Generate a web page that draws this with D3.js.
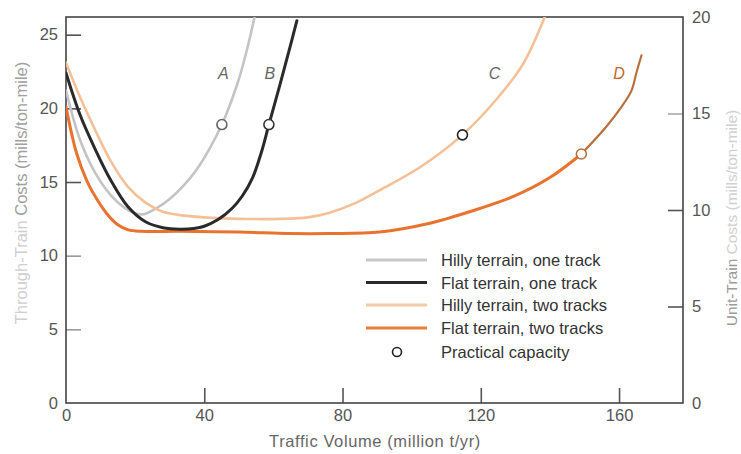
<!DOCTYPE html>
<html>
<head>
<meta charset="utf-8">
<script src="https://cdn.jsdelivr.net/npm/d3@7"></script>
<style>
  html, body { margin: 0; padding: 0; background: #fff; }
  svg { display: block; font-family: "Liberation Sans", Arial, sans-serif; }
</style>
</head>
<body>
<svg id="chart" width="741" height="454"></svg>
<script>
// Traffic volume (million t/yr) vs. cost (mills/ton-mile)
const hillyOneTrack = [[0,21.2],[4,17.9],[8.5,15.6],[13,14.1],[18,13.1],[22,12.8],[26,13.2],[30,13.85],[34,14.75],[37.8,15.85],[41.5,17.25],[45.1,18.9],[48,20.6],[50.3,22.2],[52.9,24.5],[55.2,26.9]];
const flatOneTrack = [[0,22.4],[4,19.6],[8.5,17.2],[13,15.1],[18,13.3],[23,12.3],[28,11.9],[33,11.8],[37,11.85],[40,12.0],[44,12.45],[48,13.2],[51,14.05],[54,15.3],[56.5,17.0],[58.7,18.9],[62,21.7],[65.3,24.6],[66.8,25.95]];
const hillyTwoTracks = [[0,23.1],[4,20.8],[8.5,18.5],[13,16.4],[18,14.65],[23,13.6],[27.8,13.0],[33,12.75],[40,12.6],[50,12.5],[62,12.5],[70,12.6],[76,12.9],[84,13.6],[90.8,14.45],[102.4,16.0],[114.7,18.2],[124.5,20.6],[132.2,23.0],[138.5,26.2]];
const flatTwoTracks = [[0,20.1],[3,17.0],[6,15.1],[8.5,14.0],[12,12.8],[15,12.1],[18,11.75],[22,11.65],[33,11.65],[50,11.6],[65,11.5],[76,11.5],[90.8,11.6],[105.3,12.2],[110,12.5],[119.7,13.2],[129.3,14.0],[140,15.3],[149.1,16.9]];
const flatTwoTracksBeyond = [[149.1,16.9],[156.3,18.75],[160.7,20.1],[163.6,21.2],[165,22.4],[166.5,23.6]];

const capacityPoints = [[45.1,18.9],[58.7,18.9],[114.7,18.2],[149.1,16.9]];
const curveLabels = [["A",45.5,22.4],["B",59,22.4],["C",124,22.4],["D",160,22.4]];

const xTicks = [0,40,80,120,160];
const leftTicks = [0,5,10,15,20,25];
const rightTicks = [0,5,10,15,20];

const legendLabels = ["Hilly terrain, one track","Flat terrain, one track","Hilly terrain, two tracks","Flat terrain, two tracks","Practical capacity"];

const svg = d3.select("#chart");
const plotLeft = 66, plotRight = 683, plotTop = 17, plotBottom = 403;

const x = d3.scaleLinear().domain([0,178.5]).range([plotLeft,plotRight]);
const yL = d3.scaleLinear().domain([0,26.2]).range([plotBottom,plotTop]);
const yR = d3.scaleLinear().domain([0,20]).range([plotBottom,plotTop]);

const tickColor = "#555";
const tickFont = "16.5px";

svg.append("defs").append("clipPath").attr("id","plot-clip")
  .append("rect").attr("x",plotLeft).attr("y",plotTop).attr("width",plotRight-plotLeft).attr("height",plotBottom-plotTop);

// axes with inward tick marks
const gx = svg.append("g").attr("transform",`translate(0,${plotBottom})`)
  .call(d3.axisBottom(x).tickValues(xTicks).tickSizeInner(-15).tickSizeOuter(0).tickPadding(6));
const gl = svg.append("g").attr("transform",`translate(${plotLeft},0)`)
  .call(d3.axisLeft(yL).tickValues(leftTicks).tickSizeInner(-15).tickSizeOuter(0).tickPadding(8));
const gr = svg.append("g").attr("transform",`translate(${plotRight},0)`)
  .call(d3.axisRight(yR).tickValues(rightTicks).tickSizeInner(-15).tickSizeOuter(0).tickPadding(9));

[gx,gl,gr].forEach(g => {
  g.select(".domain").remove();
  g.selectAll("text").attr("fill",tickColor).style("font-size",tickFont).style("font-family","'Liberation Sans', Arial, sans-serif");
  g.selectAll("line").attr("stroke","#555").attr("stroke-width",1.6);
});
gl.selectAll(".tick line").filter(d => d === 5 || d === 10).attr("stroke","#999");
gr.selectAll(".tick line").filter(d => d === 15).attr("stroke","#aaa");
gl.selectAll(".tick line").filter(d => d === 0).remove();
gr.selectAll(".tick line").filter(d => d === 0 || d === 20).remove();
gx.selectAll(".tick line").filter(d => d === 0).remove();

// frame
svg.append("rect").attr("x",plotLeft).attr("y",plotTop).attr("width",plotRight-plotLeft).attr("height",plotBottom-plotTop)
  .attr("fill","none").attr("stroke","#444").attr("stroke-width",1.6);

// axis titles
svg.append("text").attr("x",375).attr("y",447).attr("text-anchor","middle")
  .attr("fill","#666").style("font-size","16.5px").style("letter-spacing","0.6px")
  .text("Traffic Volume (million t/yr)");

const lt = svg.append("text").attr("transform","translate(27,193) rotate(-90)").attr("text-anchor","middle").style("font-size","16.5px");
lt.append("tspan").attr("fill","#cfcfcf").text("Through-Train");
lt.append("tspan").attr("fill","#a0a0a0").text(" Costs (mills/ton-mile)");

const rt = svg.append("text").attr("transform","translate(737,218) rotate(-90)").attr("text-anchor","middle").style("font-size","15.5px");
rt.append("tspan").attr("fill","#9a9a9a").text("Unit-Train");
rt.append("tspan").attr("fill","#d0d0d0").text(" Costs (mills/ton-mile)");

// curves
const line = d3.line().x(d => x(d[0])).y(d => yL(d[1])).curve(d3.curveCatmullRom.alpha(0.5));
const series = [
  {data: hillyOneTrack, color: "#c4c4c4", w: 2.6},
  {data: hillyTwoTracks, color: "#f5c097", w: 2.6},
  {data: flatTwoTracks, color: "#e8732f", w: 3},
  {data: flatTwoTracksBeyond, color: "#b8703e", w: 2.2},
  {data: flatOneTrack, color: "#2a2a2a", w: 3}
];
svg.append("g").attr("clip-path","url(#plot-clip)")
  .selectAll("path").data(series).join("path")
  .attr("d", d => line(d.data)).attr("fill","none")
  .attr("stroke", d => d.color).attr("stroke-width", d => d.w).attr("stroke-linecap","round");

// practical capacity markers
const capStroke = ["#666","#333","#222","#b8703e"];
svg.append("g").selectAll("circle").data(capacityPoints).join("circle")
  .attr("cx", d => x(d[0])).attr("cy", d => yL(d[1])).attr("r",5)
  .attr("fill","#fff").attr("stroke",(d,i) => capStroke[i]).attr("stroke-width",1.6);

// curve letters
const labelColors = ["#666","#666","#666","#c0682f"];
svg.append("g").selectAll("text").data(curveLabels).join("text")
  .attr("x", d => x(d[1])).attr("y", d => yL(d[2]) + 6).attr("text-anchor","middle")
  .attr("fill",(d,i) => labelColors[i]).style("font-size","16px").style("font-style","italic")
  .text(d => d[0]);

// legend
const legendColors = ["#c8c8c8","#2a2a2a","#f5c9a2","#e8803a"];
const legY = [260,282.5,305,328,352];
const lg = svg.append("g");
legendLabels.forEach((t,i) => {
  if (i < 4) {
    lg.append("line").attr("x1",366).attr("x2",427).attr("y1",legY[i]).attr("y2",legY[i])
      .attr("stroke",legendColors[i]).attr("stroke-width",3);
  } else {
    lg.append("circle").attr("cx",397).attr("cy",legY[i]).attr("r",4.5)
      .attr("fill","#fff").attr("stroke","#222").attr("stroke-width",1.6);
  }
  lg.append("text").attr("x",441).attr("y",legY[i]+6).attr("fill","#333")
    .style("font-size","16.5px").text(t);
});
</script>
</body>
</html>
